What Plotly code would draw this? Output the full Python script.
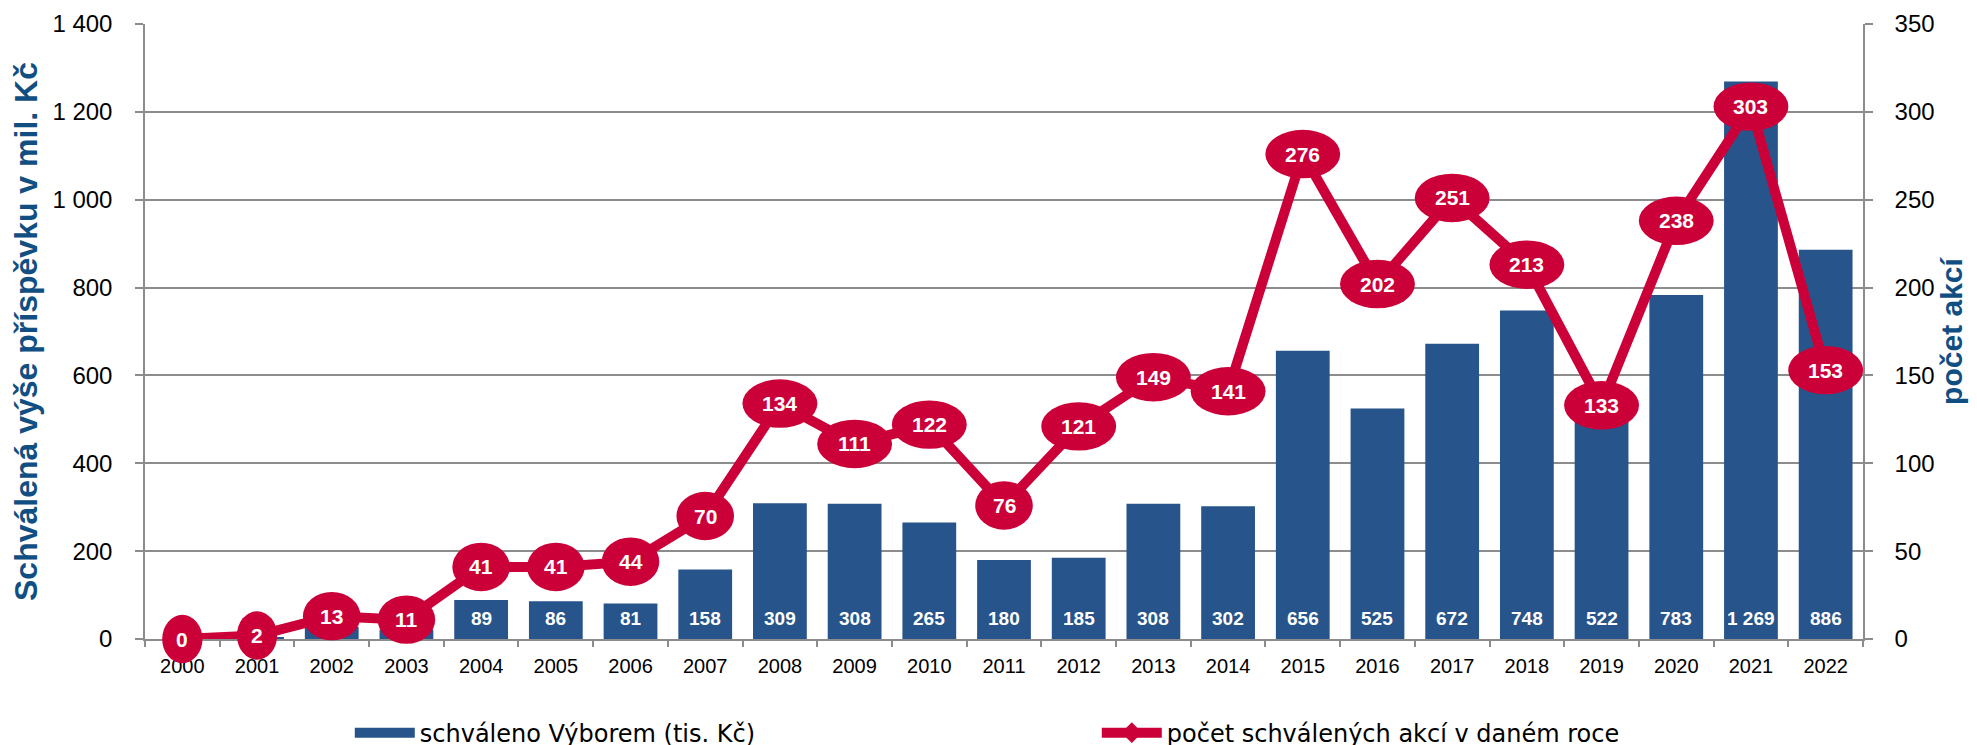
import plotly.graph_objects as go

# ---- data ----
years = [str(y) for y in range(2000, 2023)]
approved = [0, 4, 28, 21, 89, 86, 81, 158, 309, 308, 265, 180, 185, 308, 302,
            656, 525, 672, 748, 522, 783, 1269, 886]
actions = [0, 2, 13, 11, 41, 41, 44, 70, 134, 111, 122, 76, 121, 149, 141,
           276, 202, 251, 213, 133, 238, 303, 153]
bar_name = "schváleno Výborem (tis. Kč)"
line_name = "počet schválených akcí v daném roce"
left_title = "Schválená výše příspěvku v mil. Kč"
right_title = "počet akcí"

# ---- style ----
BLUE = "#27548A"
RED = "#CC0039"
TITLE_BLUE = "#114E82"
GRID = "#8C8C8C"
FONT = "Liberation Sans, Arial, sans-serif"
Y1_MAX = 1400
Y2_MAX = 350
M_L, M_R, M_T, M_B = 137, 122, 16, 114   # page body adds an 8px offset
CAT_PX = (1977 - M_L - M_R) / len(years)
PLOT_H = 745 - M_T - M_B

fig = go.Figure()
fig.add_bar(x=years, y=approved, name=bar_name, marker=dict(color=BLUE, line_width=0),
            yaxis="y", hoverinfo="x+y", showlegend=False, legendrank=1)
# legend entry for the bars drawn as a wide swatch
fig.add_scatter(x=[None], y=[None], name=bar_name, mode="lines",
                line=dict(color=BLUE, width=16), yaxis="y", legendrank=1,
                hoverinfo="skip")
fig.add_scatter(x=years, y=actions, name=line_name, yaxis="y2", mode="lines+markers",
                line=dict(color=RED, width=10),
                marker=dict(symbol="diamond", size=16, color=RED),
                cliponaxis=False, hoverinfo="x+y", legendrank=2)

# bar value labels near the base of each bar (bars too short get no label)
for i, v in enumerate(approved):
    if v >= 60:
        fig.add_annotation(x=i, y=0, xref="x", yref="y", yanchor="middle", yshift=21,
                           text="<b>" + f"{v:,}".replace(",", " ") + "</b>",
                           showarrow=False,
                           font=dict(color="white", size=19, family=FONT))

# ellipse data labels of the line series
for i, v in enumerate(actions):
    label = str(v)
    w_px = 23 + 17.3 * len(label)
    half = w_px / CAT_PX / 2
    fig.add_shape(type="circle", xref="x", yref="y2 domain",
                  x0=i - half, x1=i + half,
                  y0=v / Y2_MAX - 24.2 / PLOT_H, y1=v / Y2_MAX + 24.2 / PLOT_H,
                  fillcolor=RED, line_width=0, layer="above")
    fig.add_annotation(x=i, y=v, xref="x", yref="y2", text="<b>" + label + "</b>",
                       showarrow=False,
                       font=dict(color="white", size=21, family=FONT))

fig.update_layout(
    width=1977, height=745,
    margin=dict(l=M_L, r=M_R, t=M_T, b=M_B, autoexpand=False),
    plot_bgcolor="white", paper_bgcolor="white",
    separators=", ",
    bargap=0.28,
    font=dict(family=FONT, color="black"),
    showlegend=True,
    legend=dict(orientation="h", x=0.1192, xanchor="left", y=-0.153, yanchor="middle",
                entrywidth=672, font=dict(family="DejaVu Sans", size=24, color="black"),
                itemwidth=60, traceorder="normal"),
    xaxis=dict(type="category", tickson="boundaries", ticks="outside", ticklen=6,
               tickcolor=GRID, tickwidth=1.5, showline=True, linecolor=GRID, linewidth=1.5,
               showgrid=False, tickfont=dict(size=20, color="black"),
               ticklabelstandoff=8, automargin=False,
               range=[-0.5, len(years) - 0.5]),
    yaxis=dict(range=[0, Y1_MAX], dtick=200, separatethousands=True,
               showgrid=True, gridcolor=GRID, gridwidth=1.5,
               showline=True, linecolor=GRID, linewidth=1.5,
               ticks="outside", ticklen=8, tickcolor=GRID, tickwidth=1.5,
               ticklabelstandoff=18, zeroline=False, automargin=False,
               tickfont=dict(size=24, color="black"),
               title=dict(text=left_title, standoff=8,
                          font=dict(size=32, color=TITLE_BLUE, family=FONT, weight="bold"))),
    yaxis2=dict(range=[0, Y2_MAX], dtick=50, overlaying="y", side="right",
                showgrid=False, showline=True, linecolor=GRID, linewidth=1.5,
                ticks="outside", ticklen=8, tickcolor=GRID, tickwidth=1.5,
                ticklabelstandoff=17, zeroline=False, automargin=False,
                tickfont=dict(size=24, color="black"),
                title=dict(text=right_title, standoff=4,
                           font=dict(size=30, color=TITLE_BLUE, family=FONT, weight="bold"))),
)

fig.write_html("out.html")
